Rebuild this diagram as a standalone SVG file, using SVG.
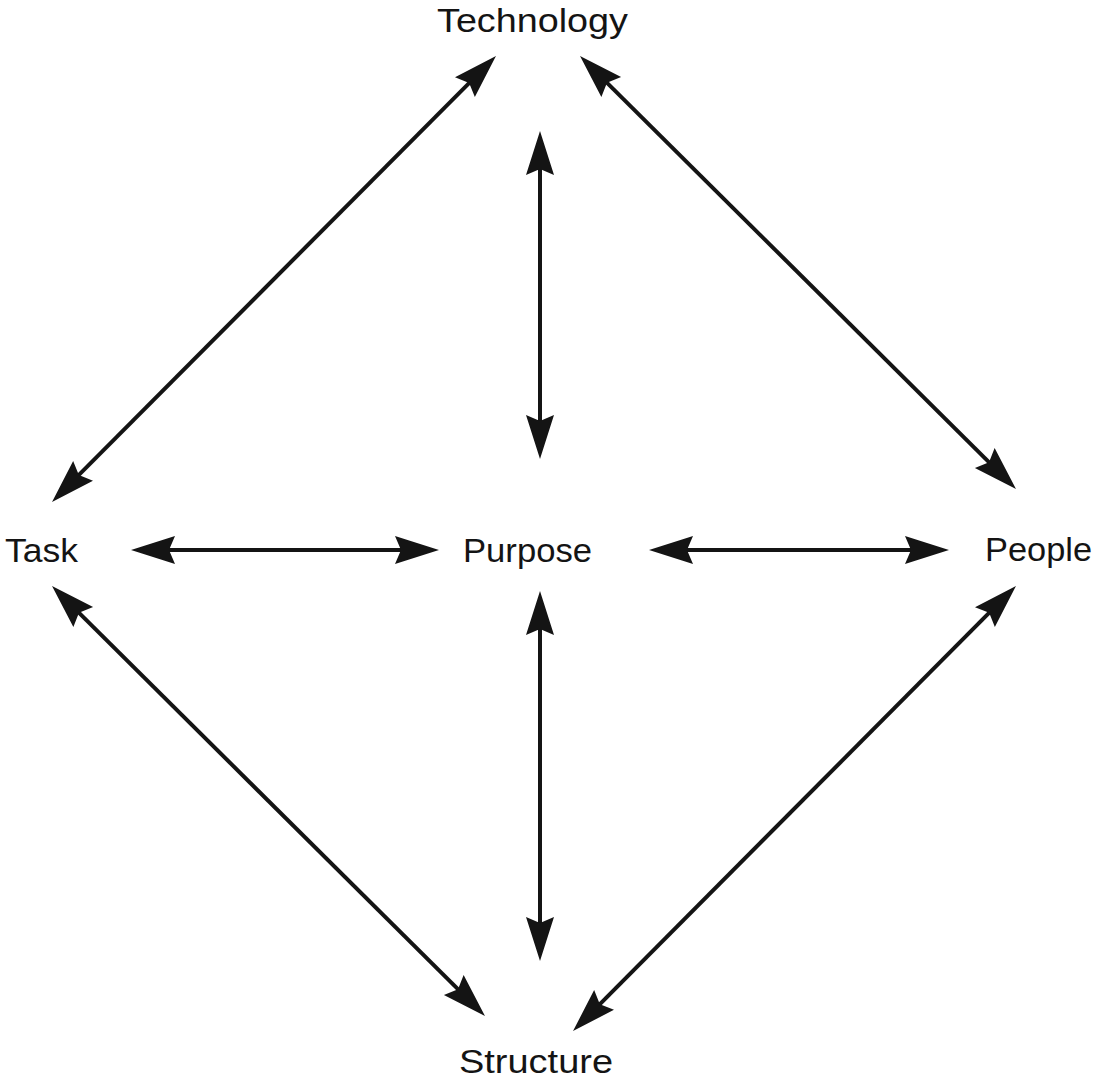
<svg xmlns="http://www.w3.org/2000/svg" width="1094" height="1084" viewBox="0 0 1094 1084">
<style>
.lbl{font-family:"Liberation Sans",Arial,sans-serif;font-size:34px;fill:#141414}
.c{stroke:#141414;stroke-width:4;fill:none;marker-start:url(#ah);marker-end:url(#ah)}
</style>
<defs>
<marker id="ah" markerUnits="userSpaceOnUse" markerWidth="80" markerHeight="34" viewBox="-20 -17 80 34" refX="0" refY="0" orient="auto-start-reverse">
<path d="M30,0 L-14,-14 L-8,0 L-14,14 Z" fill="#141414"/>
</marker>
</defs>
<rect width="1094" height="1084" fill="#fff"/>
<g id="connectors">
<line class="c" x1="73.2" y1="480.7" x2="474.8" y2="77.3"/>
<line class="c" x1="601.3" y1="77.1" x2="994.7" y2="467.9"/>
<line class="c" x1="540" y1="161" x2="540" y2="429"/>
<line class="c" x1="161" y1="550" x2="409" y2="550"/>
<line class="c" x1="679" y1="550" x2="919" y2="550"/>
<line class="c" x1="73.3" y1="607.1" x2="463.7" y2="994.9"/>
<line class="c" x1="540" y1="621" x2="540" y2="931"/>
<line class="c" x1="994.8" y1="607.2" x2="594.2" y2="1009.8"/>
</g>
<g id="technology"><text class="lbl" x="437" y="32" textLength="191" lengthAdjust="spacingAndGlyphs">Technology</text></g>
<g id="task"><text class="lbl" x="5" y="562" textLength="73" lengthAdjust="spacingAndGlyphs">Task</text></g>
<g id="purpose"><text class="lbl" x="463" y="562" textLength="129" lengthAdjust="spacingAndGlyphs">Purpose</text></g>
<g id="people"><text class="lbl" x="985" y="561" textLength="107" lengthAdjust="spacingAndGlyphs">People</text></g>
<g id="structure"><text class="lbl" x="459" y="1073" textLength="154" lengthAdjust="spacingAndGlyphs">Structure</text></g>
</svg>
